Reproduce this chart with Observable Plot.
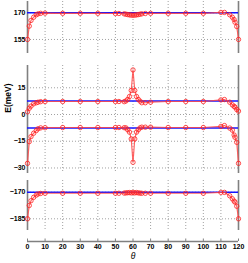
<!DOCTYPE html>
<html><head><meta charset="utf-8">
<script src="https://cdn.jsdelivr.net/npm/d3@7"></script>
<script src="https://cdn.jsdelivr.net/npm/@observablehq/plot@0.6"></script>
<style>
body{margin:0;background:#fff;}
#c{position:relative;width:248px;height:263px;overflow:hidden;}
#c>svg{position:absolute;left:0;}
</style>
</head><body><div id="c"></div>
<script>
// θ sampling (degrees)
const theta = [0,1,2,3.5,5,6,7.5,10,20,30,40,50,52,55,56,57,58,59,60,61,62,63,64,65,67,70,80,90,100,110,112,115,116.5,117.5,118,119,120];
// red (computed) series, one per band
const e1 = [155,162.5,165.7,167.5,168.9,169.4,169.7,169.8,169.7,169.7,169.7,169.6,169.6,169.4,169.2,169,168.8,168.7,168.6,168.7,168.8,169,169.2,169.4,169.6,169.7,169.7,169.7,169.7,170.2,170.2,168.9,167.5,166.2,164.7,162.3,155];
const e2 = [1.5,3.5,4.7,6,6.6,6.9,7.2,7.3,7.3,7.3,7.3,7.3,7.3,7.2,7.6,8.5,10.1,13.5,25,13.5,10.1,8.5,7.5,6.6,6.6,6.9,7.3,7.3,7.3,8.2,8.4,6.9,5.4,4.6,4.1,2.8,1.9];
const e3 = [-27.4,-15.2,-12.4,-10.5,-9,-8,-7.5,-7.4,-7.3,-7.3,-7.3,-7.3,-7.3,-7.4,-7.5,-8.6,-9.9,-13.7,-26.8,-13.7,-9.9,-8.6,-7.5,-7.1,-7.1,-7.1,-7.3,-7.3,-7.3,-6.7,-6.2,-7.6,-8.8,-11.5,-12.8,-15.6,-27.4];
const e4 = [-185,-177.5,-174.8,-172.9,-171.6,-171,-170.7,-170.6,-170.6,-170.6,-170.6,-170.6,-170.6,-170.5,-170.4,-170.3,-170.2,-170.4,-170.1,-170.4,-170.2,-170.4,-170.5,-170.6,-170.6,-170.6,-170.6,-170.6,-170.6,-170.1,-170.1,-172,-173.7,-175,-175.6,-177.9,-185];
// blue (reference) levels
const blueTop = [170];
const blueMid = [7.6, -7.6];
const blueBot = [-170];
// tick labels
const xTicks = [0,10,20,30,40,50,60,70,80,90,100,110,120];
const xGrid = [10,20,30,40,50,60,70,80,90,100,110];
const xDomain = [0,120];
const yTicksTop = [155,170];
const yTicksMid = [-30,-15,0,15];
const yTicksBot = [-185,-170];
const yLabel = "E(meV)";
const xLabel = "θ";

const FONT = "'Liberation Sans', Arial, sans-serif";
const c = document.getElementById("c");

function panel({top, height, mt, mb, domain, ticks, series, refs, label}) {
  const marks = [
    Plot.gridX(xGrid, {stroke:"#8a8a8a", strokeOpacity:0.8, strokeDasharray:"1,2"}),
    Plot.gridY(ticks, {stroke:"#8a8a8a", strokeOpacity:0.8, strokeDasharray:"1,2"}),
    Plot.ruleX(xDomain, {stroke:"#808080", strokeWidth:1.6}),
    Plot.ruleY(refs, {stroke:"#1414ff", strokeWidth:1.5}),
    Plot.axisY(ticks, {tickSize:0, tickPadding:2, label:null, fontWeight:"bold"})
  ];
  for (const s of series) {
    const data = theta.map((t,i)=>({t, v:s[i]}));
    marks.push(Plot.line(data, {x:"t", y:"v", stroke:"#ff4848", strokeWidth:1.2, strokeOpacity:0.85}));
    marks.push(Plot.dot(data, {x:"t", y:"v", r:2.2, stroke:"#ff2020", fill:"none", strokeWidth:0.8}));
  }
  if (label) marks.push(Plot.text([label], {text:d=>d, frameAnchor:"left", y:()=>1, dx:-19, rotate:-90, fontSize:8.5, fontWeight:"bold", fill:"black"}));
  const svg = Plot.plot({
    width:248, height, marginLeft:27, marginRight:10, marginTop:mt, marginBottom:mb,
    x:{domain:xDomain, axis:null},
    y:{domain, axis:null},
    style:{fontFamily:FONT, fontSize:"7px", color:"black", background:"transparent", overflow:"visible"},
    marks
  });
  svg.style.top = top + "px";
  c.appendChild(svg);
}

panel({top:0, height:55, mt:1, mb:2, domain:[147.1,176.35], ticks:yTicksTop, series:[e1], refs:blueTop});
panel({top:63, height:112, mt:2, mb:2, domain:[-33.1,27.5], ticks:yTicksMid, series:[e2,e3], refs:blueMid, label:yLabel});
panel({top:178, height:54, mt:2, mb:2, domain:[-191.6,-163.4], ticks:yTicksBot, series:[e4], refs:blueBot});

// bottom x axis
const xa = Plot.plot({
  width:248, height:27, marginLeft:27, marginRight:10, marginTop:0, marginBottom:22,
  x:{domain:xDomain, axis:null},
  y:{domain:[0,1], axis:null},
  style:{fontFamily:FONT, fontSize:"7px", color:"black", background:"transparent", overflow:"visible"},
  marks:[
    Plot.ruleY([0], {x1:xDomain[0], x2:xDomain[1], stroke:"#808080", strokeWidth:1.4}),
    Plot.ruleX(xTicks, {y1:0, y2:0.5, stroke:"#808080"}),
    Plot.axisX(xTicks, {tickSize:0, tickPadding:3, label:null, fontWeight:"bold"}),
    Plot.text([xLabel], {text:d=>d, frameAnchor:"bottom", dy:17, fontSize:8.5, fontStyle:"italic", fill:"black"})
  ]
});
xa.style.top = "236px";
c.appendChild(xa);
</script></body></html>
